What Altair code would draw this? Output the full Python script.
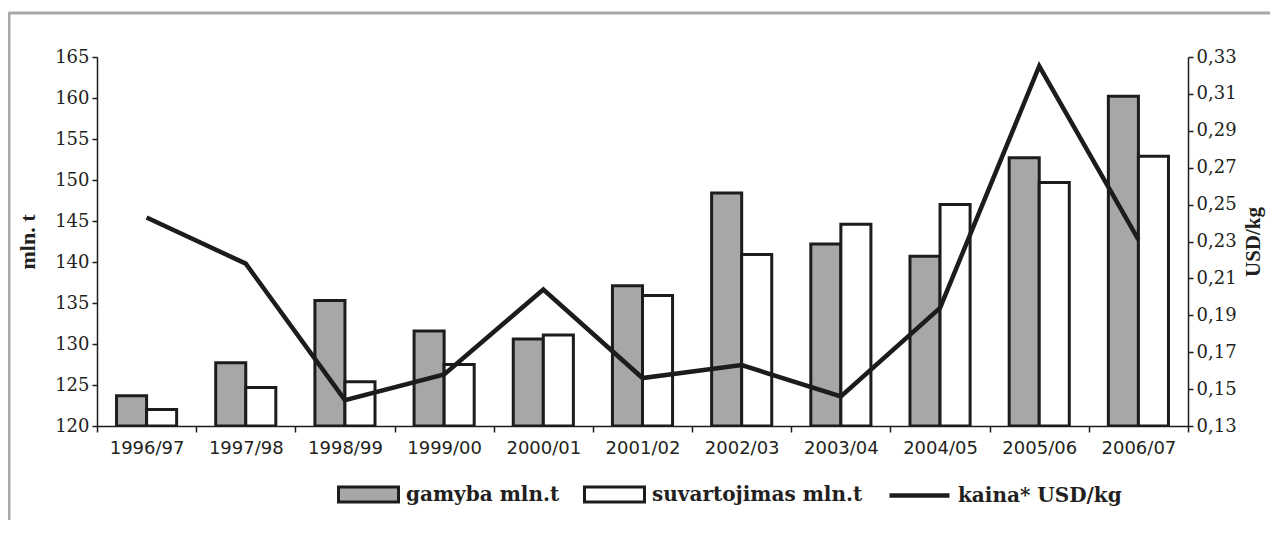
import altair as alt
import pandas as pd

seasons = ["1996/97", "1997/98", "1998/99", "1999/00", "2000/01", "2001/02",
           "2002/03", "2003/04", "2004/05", "2005/06", "2006/07"]
gamyba = [123.7, 127.7, 135.3, 131.6, 130.6, 137.1, 148.4, 142.2, 140.7, 152.7, 160.2]
suvartojimas = [122.0, 124.7, 125.4, 127.5, 131.1, 135.9, 140.9, 144.6, 147.0, 149.7, 152.9]
kaina = [0.243, 0.218, 0.144, 0.158, 0.204, 0.156, 0.163, 0.146, 0.194, 0.325, 0.231]
series_names = ["gamyba mln.t", "suvartojimas mln.t", "kaina* USD/kg"]
left_ticks = [120, 125, 130, 135, 140, 145, 150, 155, 160, 165]
right_ticks = [0.13, 0.15, 0.17, 0.19, 0.21, 0.23, 0.25, 0.27, 0.29, 0.31, 0.33]

TXT = "#231f20"
INK = "#1c1c1c"
GREY = "#a7a7a9"

rows = []
for s, g, v in zip(seasons, gamyba, suvartojimas):
    rows.append({"season": s, "series": series_names[0], "value": g})
    rows.append({"season": s, "series": series_names[1], "value": v})
bars_df = pd.DataFrame(rows)
line_df = pd.DataFrame({"season": seasons, "kaina": kaina, "series": series_names[2]})

x_enc = alt.X(
    "season:N", sort=seasons,
    scale=alt.Scale(paddingInner=0, paddingOuter=0),
    axis=alt.Axis(title=None, labelAngle=0, tickBand="extent", tickSize=6,
                  labelFont="DejaVu Sans", labelFontSize=18, labelColor=TXT,
                  labelPadding=7, domainColor=INK, domainWidth=1.5,
                  tickColor=INK, tickWidth=1.5, grid=False),
)

sym_rect = "M-1,-0.25H1V0.25H-1Z"
sym_line = "M-1,0H1"

leg_common = dict(
    title=None, orient="none", legendY=406, direction="horizontal", padding=0,
    symbolSize=3600, symbolStrokeColor=INK, symbolOpacity=1,
    labelFont="DejaVu Serif", labelFontWeight="bold",
    labelFontSize=20, labelColor=TXT, labelOffset=6,
    columnPadding=18, labelLimit=400,
)

bars = alt.Chart(bars_df).mark_bar(stroke=INK, strokeWidth=3, clip=True).encode(
    x=x_enc,
    xOffset=alt.XOffset("series:N", sort=series_names[:2],
                        scale=alt.Scale(domain=series_names[:2], paddingInner=0, paddingOuter=0.65)),
    y=alt.Y("value:Q",
            scale=alt.Scale(domain=[120, 165], nice=False, zero=False),
            axis=alt.Axis(orient="left", values=left_ticks, title="mln. t",
                          titleFont="Liberation Serif", titleFontWeight="bold",
                          titleFontSize=22, titleColor=TXT, titlePadding=15,
                          labelFont="DejaVu Serif", labelFontSize=18, labelColor=TXT,
                          labelPadding=3, tickSize=5, tickColor=INK, tickWidth=1.5,
                          domainColor=INK, domainWidth=1.5, grid=False)),
    y2=alt.datum(120),
    fill=alt.Fill("series:N", sort=series_names[:2],
                  scale=alt.Scale(domain=series_names[:2], range=[GREY, "#ffffff"]),
                  legend=alt.Legend(legendX=240, symbolType=sym_rect,
                                    symbolStrokeWidth=3, **leg_common)),
)

line = alt.Chart(line_df).mark_line(strokeWidth=4.5).encode(
    x=x_enc,
    y=alt.Y("kaina:Q",
            scale=alt.Scale(domain=[0.13, 0.33], nice=False, zero=False),
            axis=alt.Axis(orient="right", values=right_ticks, title="USD/kg",
                          labelExpr="replace(format(datum.value, '.2f'), '.', ',')",
                          titleAngle=270, titleBaseline="top",
                          titleFont="Liberation Serif", titleFontWeight="bold",
                          titleFontSize=21, titleColor=TXT, titlePadding=6,
                          labelFont="DejaVu Serif", labelFontSize=18, labelColor=TXT,
                          labelPadding=3, tickSize=5, tickColor=INK, tickWidth=1.5,
                          domainColor=INK, domainWidth=1.5, grid=False)),
    stroke=alt.Stroke("series:N",
                      scale=alt.Scale(domain=[series_names[2]], range=[INK]),
                      legend=alt.Legend(legendX=790, symbolType=sym_line,
                                        symbolStrokeWidth=4.5, **leg_common)),
)

one = pd.DataFrame({"k": [0]})
frame_top = alt.Chart(one).mark_rule(color="#a9a9a9", strokeWidth=3).encode(
    x=alt.value(-88), x2=alt.value(1300), y=alt.value(-44))
frame_left = alt.Chart(one).mark_rule(color="#a9a9a9", strokeWidth=3).encode(
    x=alt.value(-88), y=alt.value(-45), y2=alt.value(700))

chart = alt.layer(frame_top, frame_left, bars, line).resolve_scale(
    y="independent"
).properties(
    width=1091, height=369,
    autosize=alt.AutoSizeParams(type="none"),
    padding={"left": 89, "top": 49, "right": 82, "bottom": 94},
    background="white",
).configure_view(stroke=None)

chart.save("out.html", embed_options={"renderer": "svg", "actions": False})
